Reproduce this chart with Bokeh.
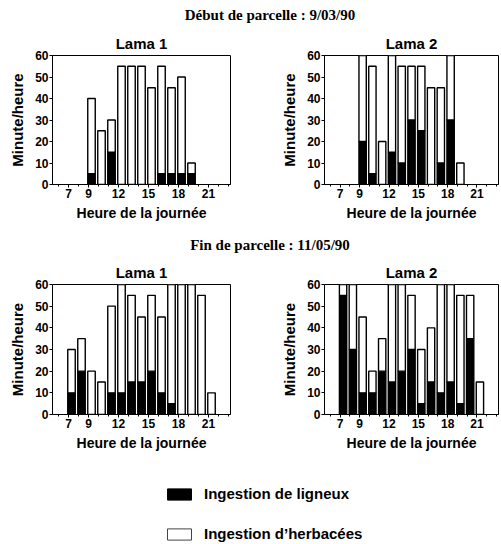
from bokeh.plotting import figure
from bokeh.layouts import column, row
from bokeh.models import ColumnDataSource, FixedTicker, Range1d, Div, Legend, LegendItem
from bokeh.transform import dodge
from bokeh.embed import file_html
from bokeh.resources import INLINE

# ---------------- data ----------------
section_titles = ["Début de parcelle : 9/03/90", "Fin de parcelle : 11/05/90"]
panel_titles = ["Lama 1", "Lama 2"]
x_label = "Heure de la journée"
y_label = "Minute/heure"
x_ticks = [7, 9, 12, 15, 18, 21]
x_minor_ticks = list(range(6, 24))
y_ticks = [0, 10, 20, 30, 40, 50, 60]
series_names = ["Ingestion de ligneux", "Ingestion d\u2019herbacées"]

hours_debut = [9, 10, 11, 12, 13, 14, 15, 16, 17, 18, 19]
debut_lama1_ligneux = [5, 0, 15, 0, 0, 0, 0, 5, 5, 5, 5]
debut_lama1_herbacees = [35, 25, 15, 55, 55, 55, 45, 50, 40, 45, 5]
debut_lama2_ligneux = [20, 5, 0, 15, 10, 30, 25, 0, 10, 30, 0]
debut_lama2_herbacees = [40, 50, 20, 45, 45, 25, 30, 45, 35, 30, 10]

hours_fin = [7, 8, 9, 10, 11, 12, 13, 14, 15, 16, 17, 18, 19, 20, 21]
fin_lama1_ligneux = [10, 20, 0, 0, 10, 10, 15, 15, 20, 10, 5, 0, 0, 0, 0]
fin_lama1_herbacees = [20, 15, 20, 15, 40, 50, 40, 30, 35, 35, 55, 60, 60, 55, 10]
fin_lama2_ligneux = [55, 30, 10, 10, 20, 15, 20, 30, 5, 15, 10, 15, 5, 35, 0]
fin_lama2_herbacees = [5, 30, 35, 10, 15, 45, 40, 25, 25, 25, 50, 45, 50, 20, 15]

SANS = "Liberation Sans"
SERIF = "Liberation Serif"


def style_axis(ax, label, label_size):
    ax.axis_label = label
    ax.axis_label_text_font = SANS
    ax.axis_label_text_font_size = label_size
    ax.axis_label_text_font_style = "bold"
    ax.axis_label_text_color = "black"
    ax.major_label_text_font = SANS
    ax.major_label_text_font_size = "12px"
    ax.major_label_text_font_style = "bold"
    ax.major_label_text_color = "black"
    ax.major_label_standoff = 1
    ax.major_tick_out = 3
    ax.major_tick_in = 0
    ax.minor_tick_in = 0
    ax.axis_line_color = "black"
    ax.major_tick_line_color = "black"
    ax.minor_tick_line_color = "black"


def make_panel(title, hours, lig, herb, width, height, left, right, top, bottom):
    p = figure(width=width, height=height, output_backend="svg", toolbar_location=None,
               x_range=Range1d(5.4, 23.2), y_range=Range1d(0, 60),
               min_border_left=left, min_border_right=right,
               min_border_top=top, min_border_bottom=bottom, title=title)
    p.title.align = "center"
    p.title.text_font = SANS
    p.title.text_font_size = "15px"
    p.title.text_font_style = "bold"
    p.title.text_color = "black"
    p.title.standoff = 7
    p.title.offset = 0
    src = ColumnDataSource(dict(hour=hours, lig=lig, herb=herb))
    p.vbar_stack(["lig", "herb"], x=dodge("hour", 0.3, range=p.x_range), width=0.75,
                 source=src, fill_color=["black", "white"], line_color="black",
                 line_width=1.4)
    p.xgrid.visible = False
    p.ygrid.visible = False
    p.outline_line_color = "black"
    p.outline_line_width = 1
    p.background_fill_color = "white"
    p.border_fill_color = "white"

    xa = p.xaxis[0]
    xa.ticker = FixedTicker(ticks=x_ticks, minor_ticks=x_minor_ticks)
    style_axis(xa, x_label, "14px")
    xa.axis_label_standoff = 4
    xa.minor_tick_out = 2

    ya = p.yaxis[0]
    ya.ticker = FixedTicker(ticks=y_ticks)
    style_axis(ya, y_label, "15px")
    ya.axis_label_standoff = 6
    ya.minor_tick_out = 0
    return p


def section_div(text, height, pad_top):
    html = ('<div style="width:499px;padding-left:41px;padding-top:%dpx;box-sizing:border-box;'
            'text-align:center;font-family:\'Liberation Serif\';font-weight:bold;'
            'font-size:15px;line-height:%dpx;color:black">%s</div>'
            % (pad_top, height - pad_top, text))
    return Div(text=html, width=499, height=height, margin=0)


d1 = section_div(section_titles[0], 28, 2)
p1 = make_panel(panel_titles[0], hours_debut, debut_lama1_ligneux, debut_lama1_herbacees,
                252, 204, 52, 22, 27, 48)
p2 = make_panel(panel_titles[1], hours_debut, debut_lama2_ligneux, debut_lama2_herbacees,
                247, 204, 72, 1, 27, 48)
d2 = section_div(section_titles[1], 26, 0)
p3 = make_panel(panel_titles[0], hours_fin, fin_lama1_ligneux, fin_lama1_herbacees,
                252, 197, 52, 22, 26, 41)
p4 = make_panel(panel_titles[1], hours_fin, fin_lama2_ligneux, fin_lama2_herbacees,
                247, 197, 72, 1, 26, 41)

# legend figure
pl = figure(width=499, height=89, output_backend="svg", toolbar_location=None,
            x_range=Range1d(0, 1), y_range=Range1d(0, 1), x_axis_type=None, y_axis_type=None,
            min_border=0)
pl.outline_line_color = None
pl.xgrid.visible = False
pl.ygrid.visible = False
leg_src = ColumnDataSource(dict(x=[-5], top=[0]))
r_lig = pl.vbar(x="x", top="top", width=0.1, source=leg_src, fill_color="black", line_color="black")
r_herb = pl.vbar(x="x", top="top", width=0.1, source=leg_src, fill_color="white", line_color="#444444",
                 line_width=1)
legend = Legend(items=[LegendItem(label=series_names[0], renderers=[r_lig]),
                       LegendItem(label=series_names[1], renderers=[r_herb])],
                location=(164, 2), orientation="vertical", spacing=23,
                glyph_width=30, glyph_height=14, label_height=14, label_standoff=10,
                label_text_font=SANS, label_text_font_size="15px", label_text_font_style="bold",
                label_text_color="black",
                border_line_color=None, background_fill_alpha=0, padding=0, margin=0)
pl.add_layout(legend)

layout = column(d1, row(p1, p2, spacing=0), d2, row(p3, p4, spacing=0), pl, spacing=0)

open("out.html", "w").write(file_html(layout, INLINE))
